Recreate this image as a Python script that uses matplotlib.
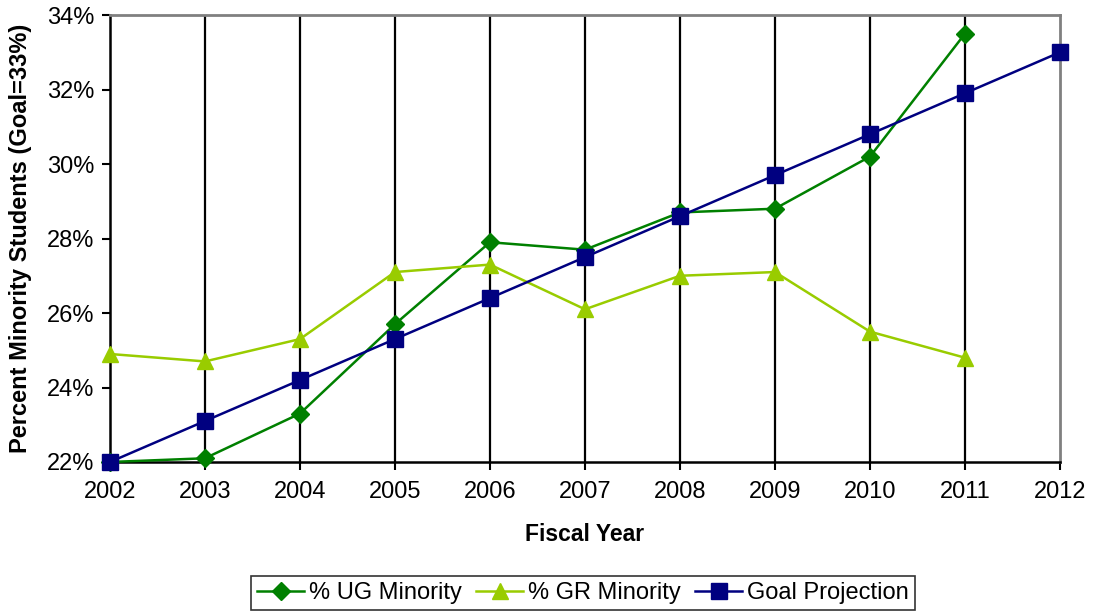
import matplotlib
matplotlib.use("Agg")
import matplotlib.pyplot as plt
from matplotlib.ticker import FuncFormatter

# ── Data ──────────────────────────────────────────────────────────────────────
years = [2002, 2003, 2004, 2005, 2006, 2007, 2008, 2009, 2010, 2011, 2012]
ug_minority = [22.0, 22.1, 23.3, 25.7, 27.9, 27.7, 28.7, 28.8, 30.2, 33.5]
gr_minority = [24.9, 24.7, 25.3, 27.1, 27.3, 26.1, 27.0, 27.1, 25.5, 24.8]
goal_projection = [22.0, 23.1, 24.2, 25.3, 26.4, 27.5, 28.6, 29.7, 30.8, 31.9, 33.0]
y_ticks = [22, 24, 26, 28, 30, 32, 34]

plt.rcParams["font.family"] = ["Liberation Sans", "DejaVu Sans"]

fig = plt.figure(figsize=(10.93, 6.16), dpi=100)
ax = fig.add_axes([0.1006, 0.25, 0.8692, 0.7256])

# vertical grid lines at inner years
for yr in years[1:-1]:
    ax.axvline(yr, color="black", lw=1.6, zorder=1)

ax.plot(years[:len(ug_minority)], ug_minority, color="#008000", lw=1.8,
        marker="D", markersize=9, label="% UG Minority", zorder=3, clip_on=False)
ax.plot(years[:len(gr_minority)], gr_minority, color="#99CC00", lw=1.8,
        marker="^", markersize=11.5, label="% GR Minority", zorder=3, clip_on=False)
ax.plot(years, goal_projection, color="#000080", lw=1.8,
        marker="s", markersize=11, label="Goal Projection", zorder=4, clip_on=False)

ax.set_xlim(2002, 2012)
ax.set_ylim(22, 34)
ax.set_xticks(years)
ax.set_yticks(y_ticks)
ax.yaxis.set_major_formatter(FuncFormatter(lambda v, _: f"{v:.0f}%"))
ax.tick_params(direction="out", length=5.5, width=1.5, labelsize=17)
ax.tick_params(axis="x", pad=8)
ax.tick_params(axis="y", pad=6)

for side in ["left", "bottom"]:
    ax.spines[side].set_color("black")
    ax.spines[side].set_linewidth(1.8)
for side in ["top", "right"]:
    ax.spines[side].set_color("#808080")
    ax.spines[side].set_linewidth(2)

ax.set_ylabel("Percent Minority Students (Goal=33%)", fontsize=17, fontweight="bold")
ax.yaxis.set_label_coords(-0.082, 0.5)
ax.set_xlabel("Fiscal Year", fontsize=16.5, fontweight="bold")
ax.xaxis.set_label_coords(0.5, -0.137)

leg = fig.legend(loc="center", bbox_to_anchor=(583 / 1093, 1 - 593 / 616),
                 ncol=3, fontsize=17, frameon=True, fancybox=False,
                 handlelength=2.0, handletextpad=0.2, columnspacing=0.6,
                 borderpad=0.25, edgecolor="black")
leg.get_frame().set_linewidth(1.2)

fig.savefig("out.png", dpi=100, facecolor="white")
